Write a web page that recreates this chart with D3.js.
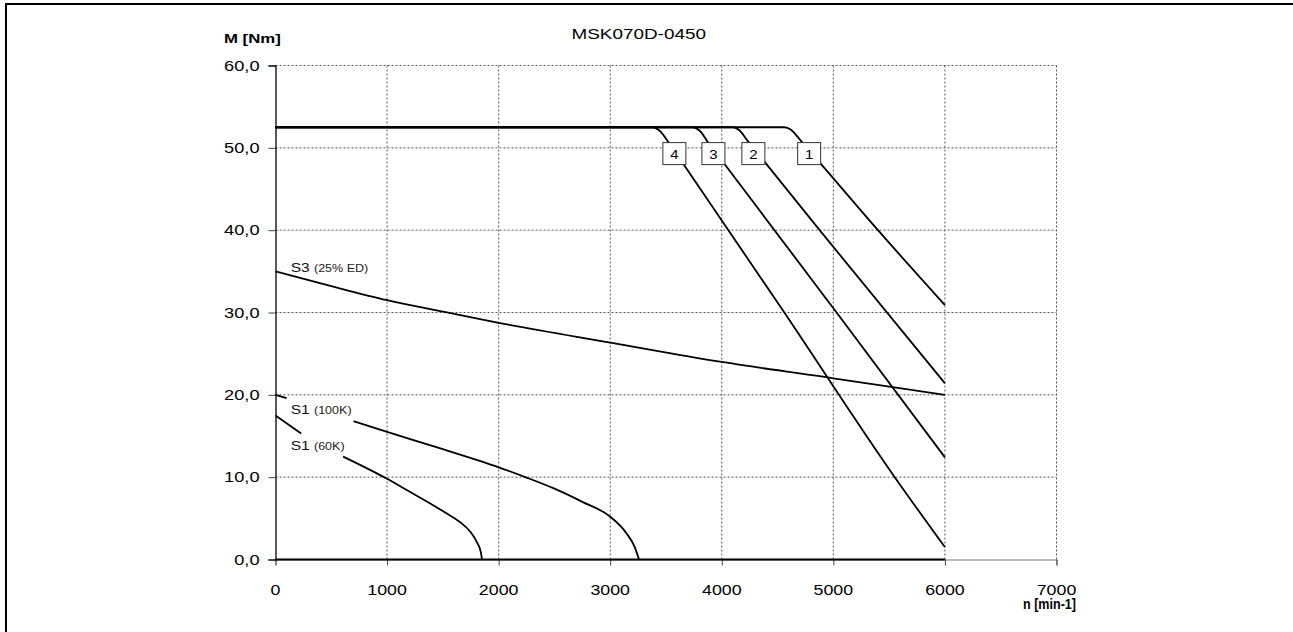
<!DOCTYPE html>
<html><head><meta charset="utf-8">
<script src="https://cdn.jsdelivr.net/npm/d3@7"></script>
<style>
html,body{margin:0;padding:0;background:#fff;}
svg{display:block;font-family:"Liberation Sans",Arial,Helvetica,sans-serif;}
</style></head>
<body>
<svg id="chart" width="1293" height="632"></svg>
<script>
// ---- data ----
const title = "MSK070D-0450";
const yAxisTitle = "M [Nm]";
const xAxisTitle = "n [min-1]";
const xTicks = [0,1000,2000,3000,4000,5000,6000,7000];
const xTickLabels = ["0","1000","2000","3000","4000","5000","6000","7000"];
const yTicks = [0,10,20,30,40,50,60];
const yTickLabels = ["0,0","10,0","20,0","30,0","40,0","50,0","60,0"];

// voltage-limit curves (n [min-1], M [Nm])
const curve1 = [[0,52.5],[4560,52.5],[4620,52.2],[4700,51.0],[4892,48.0],[5400,40.0],[6000,30.9]];
const curve2 = [[0,52.5],[4100,52.5],[4160,52.1],[4223,51.0],[4384,48.3],[4877,40.0],[6000,21.4]];
const curve3 = [[0,52.5],[3740,52.5],[3800,52.1],[3885,50.5],[4026,48.0],[5012,30.3],[6000,12.4]];
const curve4 = [[0,52.5],[3380,52.5],[3440,52.1],[3527,50.6],[3668,47.8],[4550,30.2],[5550,10.0],[6000,1.5]];
const curveNames = ["1","2","3","4"];
const curveLabelN = [4783,4283,3925,3575];
const curveLabelM = 49.3;

const s3 = [[0,35.0],[500,33.2],[1000,31.5],[1500,30.1],[2000,28.75],[3000,26.35],[4000,24.0],[5000,22.0],[6000,20.0]];
// null = hidden behind its label
const s1_100K = [[0,20.0],[100,19.6],[400,null],[700,16.8],[1000,15.5],[1500,13.4],[2000,11.2],[2250,9.95],[2500,8.6],[2750,7.0],[3000,5.2],[3145,3.2],[3220,1.5],[3258,0]];
const s1_60K = [[0,17.5],[230,15.3],[420,null],[606,12.5],[1000,9.8],[1200,8.25],[1412,6.6],[1540,5.55],[1651,4.57],[1750,3.3],[1801,2.2],[1840,0.9],[1851,0]];
const baseline = [[0,0],[6000,0]];

const seriesLabels = [
  {main:"S3", sub:"(25% ED)", n:136, m:34.88},
  {main:"S1", sub:"(100K)",  n:136, m:17.67},
  {main:"S1", sub:"(60K)",   n:136, m:13.3}
];

// ---- drawing ----
const svg = d3.select("#chart");
const x = d3.scaleLinear().domain([0,7000]).range([275.5,1056.5]);
const y = d3.scaleLinear().domain([0,60]).range([559.5,65.5]);

function txt(g, px, py, str, o){
  const t = g.append("g").attr("transform",`translate(${px},${py}) scale(${o.sx||1},1)`)
    .append("text").attr("x",0).attr("y",0)
    .attr("text-anchor",o.anchor||"start")
    .attr("font-size",o.size)
    .attr("font-weight",o.weight||"normal")
    .attr("fill",o.fill||"#000")
    .text(str);
  if(o.len) t.attr("textLength",o.len/(o.sx||1)).attr("lengthAdjust","spacingAndGlyphs");
  return t;
}

// frame
svg.append("path").attr("d","M6,632V4H1293").attr("fill","none").attr("stroke","#000").attr("stroke-width",2);

// grid
const grid = svg.append("g");
grid.selectAll("line.v").data(xTicks.filter(d=>d>0)).join("line")
  .attr("x1",d=>x(d)).attr("x2",d=>x(d)).attr("y1",y(60)).attr("y2",y(0))
  .attr("stroke","#555").attr("stroke-width",1).attr("stroke-dasharray","2,2");
grid.selectAll("line.h").data(yTicks.filter(d=>d>0)).join("line")
  .attr("x1",x(0)).attr("x2",x(7000)).attr("y1",d=>y(d)).attr("y2",d=>y(d))
  .attr("stroke","#555").attr("stroke-width",1).attr("stroke-dasharray","2,2");

// axes
const xAxis = d3.axisBottom(x).tickValues(xTicks).tickSize(6).tickFormat("");
const gx = svg.append("g").attr("transform",`translate(0,${y(0)})`).call(xAxis);
gx.select(".domain").attr("stroke","#777");
gx.selectAll(".tick line").attr("stroke","#444");
const yAxis = d3.axisLeft(y).tickValues(yTicks).tickSize(7).tickFormat("");
const gy = svg.append("g").attr("transform",`translate(${x(0)},0)`).call(yAxis);
gy.select(".domain").attr("stroke","#000").attr("stroke-width",1.3);
gy.selectAll(".tick line").attr("stroke","#444");

const labels = svg.append("g");
xTicks.forEach((v,i)=>txt(labels,x(v),595,xTickLabels[i],{size:14,anchor:"middle",sx:1.27}));
yTicks.forEach((v,i)=>txt(labels,259.5,y(v)+5,yTickLabels[i],{size:14,anchor:"end",sx:1.3}));
txt(labels,638.7,39,title,{size:15,anchor:"middle",sx:1.26});
txt(labels,224,42.5,yAxisTitle,{size:13,weight:"bold",sx:1.29});
txt(labels,1076,609,xAxisTitle,{size:14,weight:"bold",anchor:"end",len:53});

// curves
const line = d3.line().defined(d=>d[1]!==null).x(d=>x(d[0])).y(d=>y(d[1])).curve(d3.curveMonotoneX);
const curves = svg.append("g").attr("fill","none").attr("stroke","#000").attr("stroke-linejoin","round");
[curve1,curve2,curve3,curve4].forEach(c=>curves.append("path").attr("d",line(c)).attr("stroke-width",1.8));
[s3,s1_100K,s1_60K].forEach(c=>curves.append("path").attr("d",line(c)).attr("stroke-width",1.8));
curves.append("path").attr("d",line(baseline)).attr("stroke-width",2);

// series labels
seriesLabels.forEach(l=>{
  const px = x(l.n), py = y(l.m);
  txt(labels,px,py,l.main,{size:13,sx:1.2,fill:"#111"});
  txt(labels,px+23.3,py,l.sub,{size:11,sx:1.14,fill:"#222"});
});

// numbered boxes
const boxes = svg.append("g");
curveNames.forEach((nm,i)=>{
  const cx = x(curveLabelN[i]), cy = y(curveLabelM);
  boxes.append("rect").attr("x",cx-11.5).attr("y",cy-11).attr("width",23).attr("height",22)
    .attr("fill","#fff").attr("stroke","#333").attr("stroke-width",1);
  txt(boxes,cx,cy+5,nm,{size:13,anchor:"middle",sx:1.15});
});
</script>
</body></html>
